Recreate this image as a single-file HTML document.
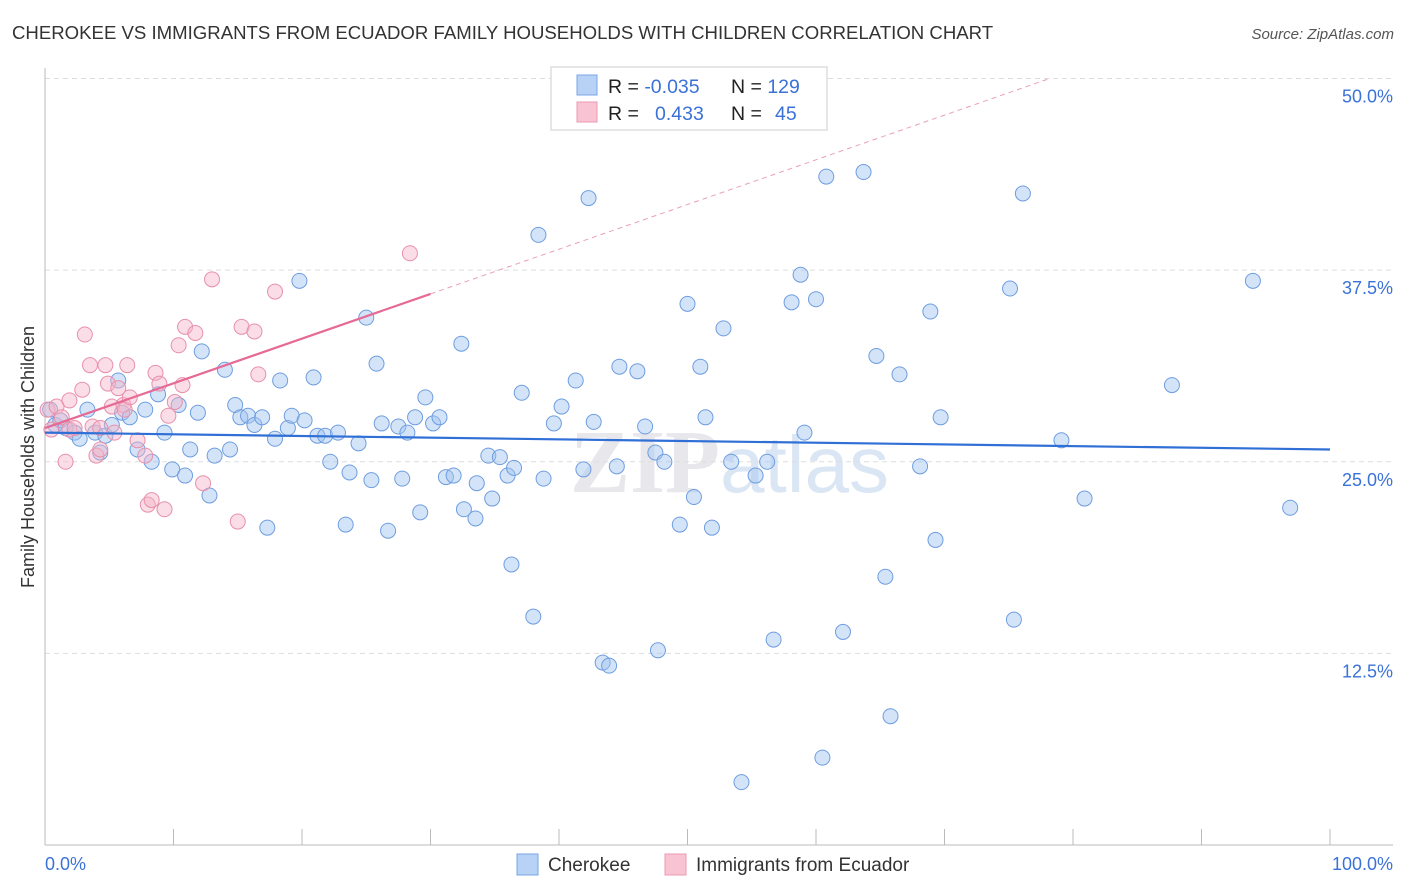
<!DOCTYPE html>
<html><head><meta charset="utf-8"><style>
body{margin:0;background:#fff;font-family:"Liberation Sans",sans-serif;}
svg{display:block}
</style></head><body>
<svg id="chart" width="1406" height="892" xmlns="http://www.w3.org/2000/svg">
<text x="12" y="39" font-size="18.6" fill="#333">CHEROKEE VS IMMIGRANTS FROM ECUADOR FAMILY HOUSEHOLDS WITH CHILDREN CORRELATION CHART</text>
<text x="1394" y="39" font-size="15" fill="#555" font-style="italic" text-anchor="end">Source: ZipAtlas.com</text>
<text x="720" y="492" font-size="90" font-weight="bold" fill="#e8e8ec" text-anchor="end" font-family="Liberation Serif, serif">ZIP</text>
<text x="720" y="492" font-size="80" fill="#dbe6f5">atlas</text>
<g id="grid"></g>
<g id="axes"></g>
<g id="pts"></g>
<g id="lines"></g>
<text transform="translate(34,457) rotate(-90)" font-size="18" fill="#333" text-anchor="middle">Family Households with Children</text>
<g>
<rect x="551" y="67" width="276" height="63" fill="#fff" stroke="#ddd" stroke-width="1.5"/>
<rect x="577" y="75" width="20" height="20" fill="#b8d2f5" stroke="#7aa6e6"/>
<rect x="577" y="102" width="20" height="20" fill="#f8c4d4" stroke="#eb98b2"/>
<text x="608" y="93" font-size="19.5" fill="#222">R = <tspan fill="#3a72d8">-0.035</tspan></text>
<text x="731" y="93" font-size="19.5" fill="#222">N = <tspan fill="#3a72d8">129</tspan></text>
<text x="608" y="120" font-size="19.5" fill="#222">R = <tspan fill="#3a72d8" x="655">0.433</tspan></text>
<text x="731" y="120" font-size="19.5" fill="#222">N = <tspan fill="#3a72d8" x="775">45</tspan></text>
</g>
<g>
<rect x="517" y="854" width="21" height="21" fill="#b8d2f5" stroke="#7aa6e6"/>
<text x="548" y="871" font-size="19" fill="#333">Cherokee</text>
<rect x="665" y="854" width="21" height="21" fill="#f8c4d4" stroke="#eb98b2"/>
<text x="696" y="871" font-size="19" fill="#333">Immigrants from Ecuador</text>
</g>
</svg>
<script>
const blueX=[0.4,0.8,1.2,1.6,2.3,2.7,3.3,3.9,4.3,4.7,5.2,5.7,6.0,6.6,7.2,7.8,8.3,8.8,9.3,9.9,10.4,10.9,11.3,11.9,12.2,12.8,13.2,14.0,14.4,14.8,15.2,15.8,16.3,16.9,17.3,17.9,18.3,18.9,19.2,19.8,20.2,20.9,21.2,21.8,22.2,22.8,23.4,23.7,24.4,25.0,25.4,25.8,26.2,26.7,27.5,27.8,28.2,28.8,29.2,29.6,30.2,30.7,31.2,31.8,32.4,32.6,33.5,33.6,34.5,34.8,35.4,36.0,36.3,36.5,37.1,38.0,38.4,38.8,39.6,40.2,41.3,41.9,42.3,42.7,43.4,43.9,44.5,44.7,46.1,46.7,47.5,47.7,48.2,49.4,50.0,50.5,51.0,51.4,51.9,52.8,53.4,54.2,55.3,56.2,56.7,58.1,58.8,59.1,60.0,60.5,60.8,62.1,63.7,64.7,65.4,65.8,66.5,68.1,68.9,69.3,69.7,75.1,75.4,76.1,79.1,80.9,87.7,94.0,96.9];
const blueY=[28.4,27.4,27.7,27.2,26.9,26.5,28.4,26.9,25.6,26.7,27.4,30.3,28.2,27.9,25.8,28.4,25.0,29.4,26.9,24.5,28.7,24.1,25.8,28.2,32.2,22.8,25.4,31.0,25.8,28.7,27.9,28.0,27.4,27.9,20.7,26.5,30.3,27.2,28.0,36.8,27.7,30.5,26.7,26.7,25.0,26.9,20.9,24.3,26.2,34.4,23.8,31.4,27.5,20.5,27.3,23.9,26.9,27.9,21.7,29.2,27.5,27.9,24.0,24.1,32.7,21.9,21.3,23.6,25.4,22.6,25.3,24.1,18.3,24.6,29.5,14.9,39.8,23.9,27.5,28.6,30.3,24.5,42.2,27.6,11.9,11.7,24.7,31.2,30.9,27.3,25.6,12.7,25.0,20.9,35.3,22.7,31.2,27.9,20.7,33.7,25.0,4.1,24.1,25.0,13.4,35.4,37.2,26.9,35.6,5.7,43.6,13.9,43.9,31.9,17.5,8.4,30.7,24.7,34.8,19.9,27.9,36.3,14.7,42.5,26.4,22.6,30.0,36.8,22.0];
const pinkX=[0.2,0.5,0.9,1.3,1.6,1.9,1.9,2.3,2.9,3.1,3.5,3.7,4.0,4.3,4.3,4.7,4.9,5.2,5.4,5.7,6.1,6.2,6.4,6.6,7.2,7.8,8.0,8.3,8.6,8.9,9.3,9.6,10.1,10.4,10.7,10.9,11.7,12.3,13.0,15.0,15.3,16.3,16.6,17.9,28.4];
const pinkY=[28.4,27.1,28.6,27.9,25.0,29.0,27.1,27.2,29.7,33.3,31.3,27.3,25.4,27.2,25.8,31.3,30.1,28.6,26.9,29.8,28.7,28.4,31.3,29.2,26.4,25.4,22.2,22.5,30.8,30.1,21.9,28.0,28.9,32.6,30.0,33.8,33.4,23.6,36.9,21.1,33.8,33.5,30.7,36.1,38.6];
const blueTrend=[26.9,25.8];
const pinkTrend=[27.2,0.2916];
const yTicks=[12.5,25.0,37.5,50.0];
const NS="http://www.w3.org/2000/svg";
const X=v=>45+v*12.85, Y=v=>845-v*15.33;
function mk(tag,a,parent){const e=document.createElementNS(NS,tag);for(const k in a)e.setAttribute(k,a[k]);document.getElementById(parent).appendChild(e);return e;}
yTicks.forEach(t=>{
 const g=mk('line',{x1:45,x2:1393,y1:Y(t),y2:Y(t),stroke:'#ddd','stroke-dasharray':'5,4'},'grid');
 
 
 const l=mk('text',{x:1393,y:Y(t)+24,'font-size':18,fill:'#3a72d8','text-anchor':'end'},'grid');
 l.textContent=t.toFixed(1)+'%';
 
 
});
mk('line',{x1:45,x2:45,y1:68,y2:845,stroke:'#bbb'},'axes');
mk('line',{x1:45,x2:1393,y1:845,y2:845,stroke:'#bbb'},'axes');
for(let i=0;i<=10;i++){const t=mk('line',{x1:X(i*10),x2:X(i*10),y1:829,y2:845,stroke:'#bbb'},'axes');
 
 }
const x0=mk('text',{x:45,y:870,'font-size':18,fill:'#3a72d8'},'axes');x0.textContent='0.0%';


const x1=mk('text',{x:1393,y:870,'font-size':18,fill:'#3a72d8','text-anchor':'end'},'axes');x1.textContent='100.0%';


blueX.forEach((v,i)=>{const c=mk('circle',{cx:X(v),cy:Y(blueY[i]),r:7.5,fill:'rgba(160,196,240,0.45)',stroke:'#6e9de0','stroke-width':1},'pts');
 
 });
pinkX.forEach((v,i)=>{const c=mk('circle',{cx:X(v),cy:Y(pinkY[i]),r:7.5,fill:'rgba(245,180,200,0.45)',stroke:'#e890ac','stroke-width':1},'pts');
 
 });
const bl=mk('line',{x1:X(0),y1:Y(blueTrend[0]),x2:X(100),y2:Y(blueTrend[1]),stroke:'#2f6fd6','stroke-width':2.2},'lines');


const pe=30, pd=(50-pinkTrend[0])/pinkTrend[1];
const pl=mk('line',{x1:X(0),y1:Y(pinkTrend[0]),x2:X(pe),y2:Y(pinkTrend[0]+pinkTrend[1]*pe),stroke:'#e56a95','stroke-width':2.2},'lines');


const pdl=mk('line',{x1:X(pe),y1:Y(pinkTrend[0]+pinkTrend[1]*pe),x2:X(pd),y2:Y(50),stroke:'#eaa0b8','stroke-width':1,'stroke-dasharray':'5,4'},'lines');


</script>
</body></html>
